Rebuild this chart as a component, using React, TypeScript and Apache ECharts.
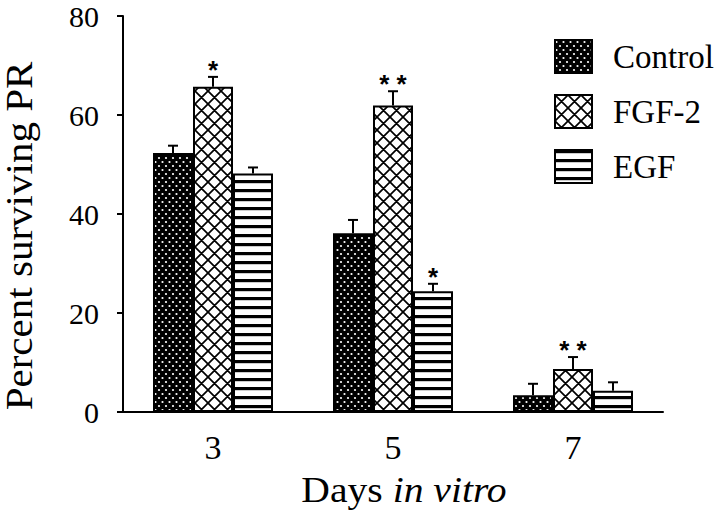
import React, { useEffect, useRef } from 'react';
import * as echarts from 'echarts';

// ---- data ----
const categories = ['3', '5', '7'];
const seriesNames = ['Control', 'FGF-2', 'EGF'];
const controlValues = [52.3, 36.1, 3.4];
const fgf2Values = [65.7, 61.9, 8.7];
const egfValues = [48.2, 24.4, 4.3];
const controlErrors = [1.5, 2.7, 2.3];
const fgf2Errors = [2.0, 2.9, 2.4];
const egfErrors = [1.2, 1.5, 1.7];
const controlStars = ['', '', ''];
const fgf2Stars = ['*', '* *', '* *'];
const egfStars = ['', '*', ''];
const yTicks = [0, 20, 40, 60, 80];
const xTitleA = 'Days ';
const xTitleB = 'in vitro';
const yTitle = 'Percent surviving PR';

const BAR_WIDTH = 40;
const FONT = '"Liberation Serif", "Times New Roman", serif';

function makeCanvas(w: number, h: number, draw: (ctx: CanvasRenderingContext2D) => void) {
  const c = document.createElement('canvas');
  c.width = w;
  c.height = h;
  const ctx = c.getContext('2d') as CanvasRenderingContext2D;
  draw(ctx);
  return c;
}

function dotsTile() {
  return makeCanvas(7, 8, (ctx) => {
    ctx.fillStyle = '#000';
    ctx.fillRect(0, 0, 7, 8);
    ctx.fillStyle = '#fff';
    [[1.5, 2], [5, 6]].forEach(([x, y]) => {
      ctx.beginPath();
      ctx.arc(x, y, 1.1, 0, Math.PI * 2);
      ctx.fill();
    });
  });
}

function crossTile() {
  const s = 13;
  return makeCanvas(s, s, (ctx) => {
    ctx.fillStyle = '#fff';
    ctx.fillRect(0, 0, s, s);
    ctx.strokeStyle = '#000';
    ctx.lineWidth = 1.7;
    ctx.beginPath();
    for (const k of [-s, 0, s]) {
      ctx.moveTo(-2, -2 + k);
      ctx.lineTo(s + 2, s + 2 + k);
      ctx.moveTo(s + 2, -2 + k);
      ctx.lineTo(-2, s + 2 + k);
    }
    ctx.stroke();
  });
}

function stripesTile() {
  return makeCanvas(4, 9, (ctx) => {
    ctx.fillStyle = '#fff';
    ctx.fillRect(0, 0, 4, 9);
    ctx.fillStyle = '#000';
    ctx.fillRect(0, 0, 4, 3.2);
  });
}

export default function App() {
  const ref = useRef<HTMLDivElement>(null);

  useEffect(() => {
    document.body.style.margin = '0';
    if (!ref.current) return;
    const chart = echarts.init(ref.current, null, { renderer: 'svg' });

    const allValues = [controlValues, fgf2Values, egfValues];
    const allErrors = [controlErrors, fgf2Errors, egfErrors];
    const allStars = [controlStars, fgf2Stars, egfStars];
    const patterns = [dotsTile(), crossTile(), stripesTile()];

    const errData: number[][] = [];
    allValues.forEach((vals, s) => {
      vals.forEach((v, c) => {
        errData.push([c, s, v, v + allErrors[s][c]]);
      });
    });

    const barSeries = seriesNames.map((name, s) => ({
      type: 'bar',
      name,
      data: allValues[s],
      barWidth: BAR_WIDTH,
      barGap: '0%',
      itemStyle: {
        color: { image: patterns[s], repeat: 'repeat' },
        borderColor: '#000',
        borderWidth: 2,
      },
      emphasis: { disabled: true },
    }));

    const option: any = {
      animation: false,
      backgroundColor: '#fff',
      grid: {
        left: 123,
        top: 16,
        width: 540,
        height: 396,
        outerBoundsMode: 'none',
        containLabel: false,
      },
      legend: {
        data: seriesNames,
        orient: 'vertical',
        left: 549,
        top: 34,
        itemWidth: 37,
        itemHeight: 33,
        itemGap: 20,
        icon: 'rect',
        selectedMode: false,
        textStyle: {
          fontFamily: FONT,
          fontSize: 33,
          color: '#000',
          padding: [0, 0, 0, 16],
        },
      },
      xAxis: {
        type: 'category',
        data: categories,
        axisLine: { show: true, lineStyle: { color: '#000', width: 2 } },
        axisTick: { show: false },
        axisLabel: { fontFamily: FONT, fontSize: 34, color: '#000', margin: 18 },
        splitLine: { show: false },
      },
      yAxis: {
        type: 'value',
        min: yTicks[0],
        max: yTicks[yTicks.length - 1],
        interval: yTicks[1] - yTicks[0],
        axisLine: { show: true, lineStyle: { color: '#000', width: 2 } },
        axisTick: { show: true, length: 6, lineStyle: { color: '#000', width: 2 } },
        axisLabel: { fontFamily: FONT, fontSize: 30, color: '#000', margin: 24 },
        splitLine: { show: false },
      },
      graphic: [
        {
          type: 'text',
          x: 20,
          y: 236,
          rotation: Math.PI / 2,
          scaleX: 1.08,
          style: {
            text: yTitle,
            font: '38px ' + FONT,
            fill: '#000',
            align: 'center',
            verticalAlign: 'middle',
          },
        },
        {
          type: 'text',
          x: 404,
          y: 490,
          scaleX: 1.1,
          style: {
            text: '{a|' + xTitleA + '}{b|' + xTitleB + '}',
            align: 'center',
            verticalAlign: 'middle',
            fill: '#000',
            rich: {
              a: { fontFamily: FONT, fontSize: 36, color: '#000' },
              b: { fontFamily: FONT, fontSize: 36, fontStyle: 'italic', color: '#000' },
            },
          },
        },
      ],
      series: [
        ...barSeries,
        {
          type: 'custom',
          name: 'errors',
          data: errData,
          encode: { x: 0, y: [2, 3] },
          z: 5,
          renderItem: (params: any, api: any) => {
            const c = api.value(0);
            const s = api.value(1);
            const base = api.coord([c, api.value(2)]);
            const top = api.coord([c, api.value(3)]);
            const x = base[0] + (s - 1) * BAR_WIDTH;
            const star = allStars[s][c];
            const children: any[] = [
              {
                type: 'line',
                shape: { x1: x, y1: base[1], x2: x, y2: top[1] },
                style: { stroke: '#000', lineWidth: 2 },
              },
              {
                type: 'line',
                shape: { x1: x - 5, y1: top[1], x2: x + 5, y2: top[1] },
                style: { stroke: '#000', lineWidth: 2 },
              },
            ];
            if (star) {
              children.push({
                type: 'text',
                x,
                y: top[1] - 7,
                style: {
                  text: star,
                  font: 'bold 26px "Liberation Sans", Arial, sans-serif',
                  fill: '#000',
                  align: 'center',
                  verticalAlign: 'middle',
                },
              });
            }
            return { type: 'group', children };
          },
        },
      ],
    };

    chart.setOption(option);
    return () => chart.dispose();
  }, []);

  return <div ref={ref} style={{ width: 720, height: 518 }} />;
}
